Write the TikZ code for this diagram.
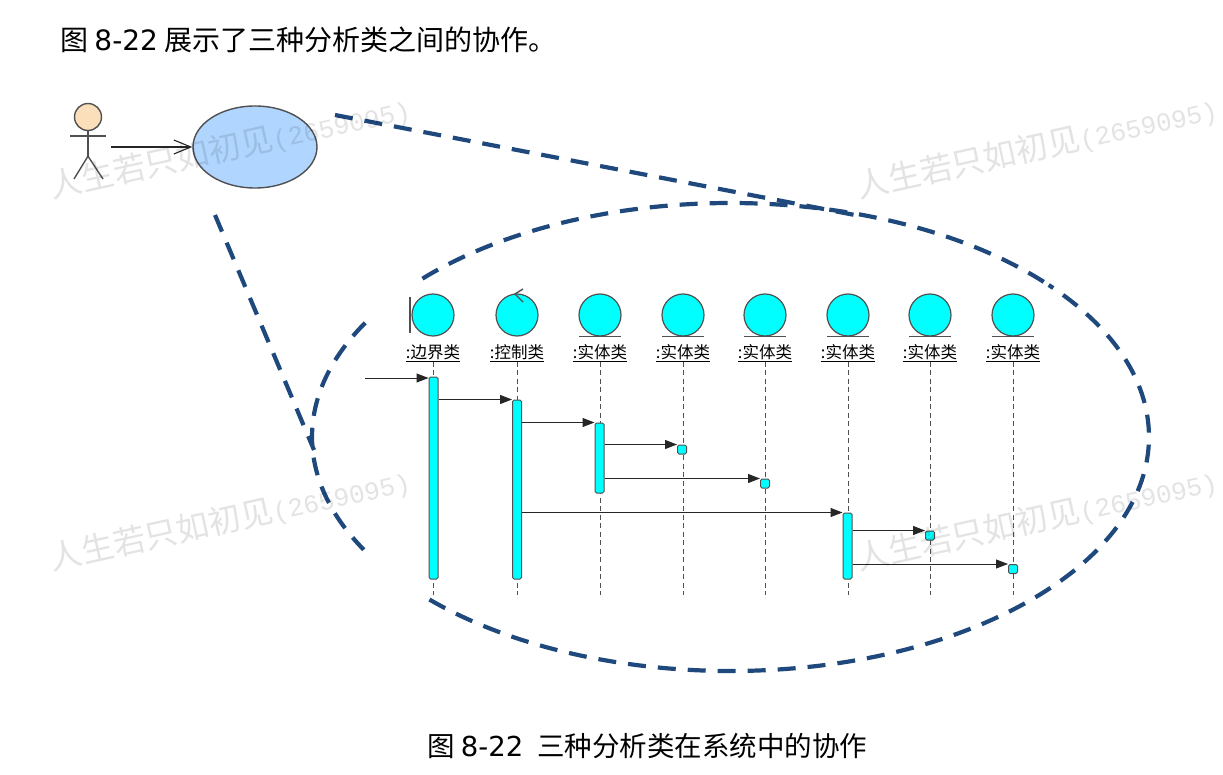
\documentclass[tikz,border=0pt]{standalone}
\usepackage{fontspec}
\setmainfont{Noto Sans CJK SC}
\newfontfamily\numfont{DejaVu Sans}
\newfontfamily\markfont{Liberation Mono}
\usetikzlibrary{arrows.meta,positioning,shapes.geometric}
\definecolor{zoomB}{RGB}{31,73,125}
\definecolor{lifeG}{RGB}{80,80,80}
\definecolor{objC}{RGB}{0,255,255}
\definecolor{skinT}{RGB}{251,223,187}
\definecolor{caseB}{RGB}{176,214,255}

\begin{document}
\begin{tikzpicture}[x=1pt,y=-1pt,
  zoomline/.style={draw=zoomB, line width=4.2pt, dash pattern=on 18pt off 12pt},
  obj/.style={circle, draw=lifeG, line width=1.2pt, fill=objC, minimum size=42pt, inner sep=0pt},
  lab/.style={font=\fontsize{16.5}{18}\selectfont, inner sep=0pt},
  lifeline/.style={draw=lifeG, line width=1pt, dash pattern=on 5pt off 3.5pt},
  actbar/.style={draw=lifeG, line width=1pt, fill=objC, rounded corners=1.5pt,
    minimum width=9pt, inner sep=0pt},
  actdot/.style={actbar, minimum width=9pt, minimum height=9pt},
  msg/.style={-{Triangle[length=12pt,width=9pt]}, line width=1pt, draw=black!85, fill=black},
  stick/.style={draw=lifeG, line width=1.4pt},
  wmark/.style={font=\fontsize{32.5}{34}\selectfont, text=black, text opacity=0.11, rotate=12.5, inner sep=0pt},
  capt/.style={font=\fontsize{#1}{30}\selectfont, inner sep=0pt},
]
\useasboundingbox (0,0) rectangle (1223,775);

% Title and caption
\node[capt=28, anchor=west] (title) at (60,40) {图 {\numfont 8-22} 展示了三种分析类之间的协作。};
\node[capt=27.5, anchor=west] (caption) at (427,746) {图 {\numfont 8-22}\hspace{14pt}三种分析类在系统中的协作};

% Actor and use case
\node[circle, draw=lifeG, line width=1.4pt, fill=skinT, minimum size=27pt, inner sep=0pt] (head) at (88,117) {};
\node[ellipse, draw=lifeG, line width=1.4pt, fill=caseB, minimum width=124pt, minimum height=82pt, inner sep=0pt] (usecase) at (255,147) {};
\draw[stick] (head.south) -- ++(0,25) coordinate (hip);
\draw[stick] (70,136) -- (106,136);
\draw[stick] (hip) -- (74,179);
\draw[stick] (hip) -- (103,179);
\coordinate (actorR) at (111,147);
\draw[-{Straight Barb[length=17pt,width=14pt]}, line width=1.1pt, black!85] (actorR) -- (usecase.west);

% Zoom lines and dashed ellipse
\coordinate (zoomC) at (730.5,437);
\draw[zoomline] (335,115) -- (860,216);
\draw[zoomline] (215,215) -- (314,450);
\draw[zoomline] ([shift={(137.4:418.5pt and 234pt)}]zoomC) arc[start angle=137.4, end angle=41.4, x radius=418.5pt, y radius=234pt];
\draw[zoomline] ([shift={(224:418.5pt and 234pt)}]zoomC) arc[start angle=224, end angle=400.5, x radius=418.5pt, y radius=234pt];
\draw[zoomline] ([shift={(150.8:418.5pt and 234pt)}]zoomC) arc[start angle=150.8, end angle=208.8, x radius=418.5pt, y radius=234pt];

% Objects with lifelines
\foreach \n/\x/\txt in {1/433/边界类,2/517/控制类,3/600/实体类,4/683/实体类,5/765/实体类,6/848/实体类,7/930/实体类,8/1013/实体类} {
  \node[obj] (obj\n) at (\x,315) {};
  \node[lab] (lab\n) at (\x,353) {\underline{:\txt}};
  \draw[lifeline] (lab\n.south) -- (lab\n.south |- 0,595);
}
\foreach \n in {3,...,8} {
  \draw[stick] ([xshift=-21pt]obj\n.south) -- ([xshift=21pt]obj\n.south);
}
\draw[stick] (410,297) -- (410,333);
\draw[stick] (obj1.west) -- (410,315);
\draw[stick] (523,289) -- (515,294) -- (523,302);

% Activation bars
\node[actbar, minimum height=202pt] (bar1) at (433.5,478) {};
\node[actbar, minimum height=179pt] (bar2) at (517,489.5) {};
\node[actbar, minimum height=70pt] (bar3) at (599.5,458) {};
\node[actdot] (dot4) at (682,449.5) {};
\node[actdot] (dot5) at (765,483.5) {};
\node[actbar, minimum height=66pt] (bar6) at (847.5,546) {};
\node[actdot] (dot7) at (930,535.5) {};
\node[actdot] (dot8) at (1013,569) {};

% Messages
\coordinate (start) at (365,378);
\draw[msg] (start) -- (bar1.west |- start);
\draw[msg] (bar1.east |- bar2.north) -- (bar2.north west);
\draw[msg] (bar2.east |- bar3.north) -- (bar3.north west);
\draw[msg] (bar3.east |- dot4.north) -- (dot4.north west);
\draw[msg] (bar3.east |- dot5.north) -- (dot5.north west);
\draw[msg] (bar2.east |- bar6.north) -- (bar6.north west);
\draw[msg] (bar6.east |- dot7.north) -- (dot7.north west);
\draw[msg] (bar6.east |- dot8.north) -- (dot8.north west);

% Watermarks
\foreach \n/\x/\y in {1/230/148,2/1037/148,3/230/520,4/1037/520} {
  \node[wmark] (mark\n) at (\x,\y) {人生若只如初见{\markfont\fontsize{26}{28}\selectfont(2659095)}};
}

\end{tikzpicture}
\end{document}
